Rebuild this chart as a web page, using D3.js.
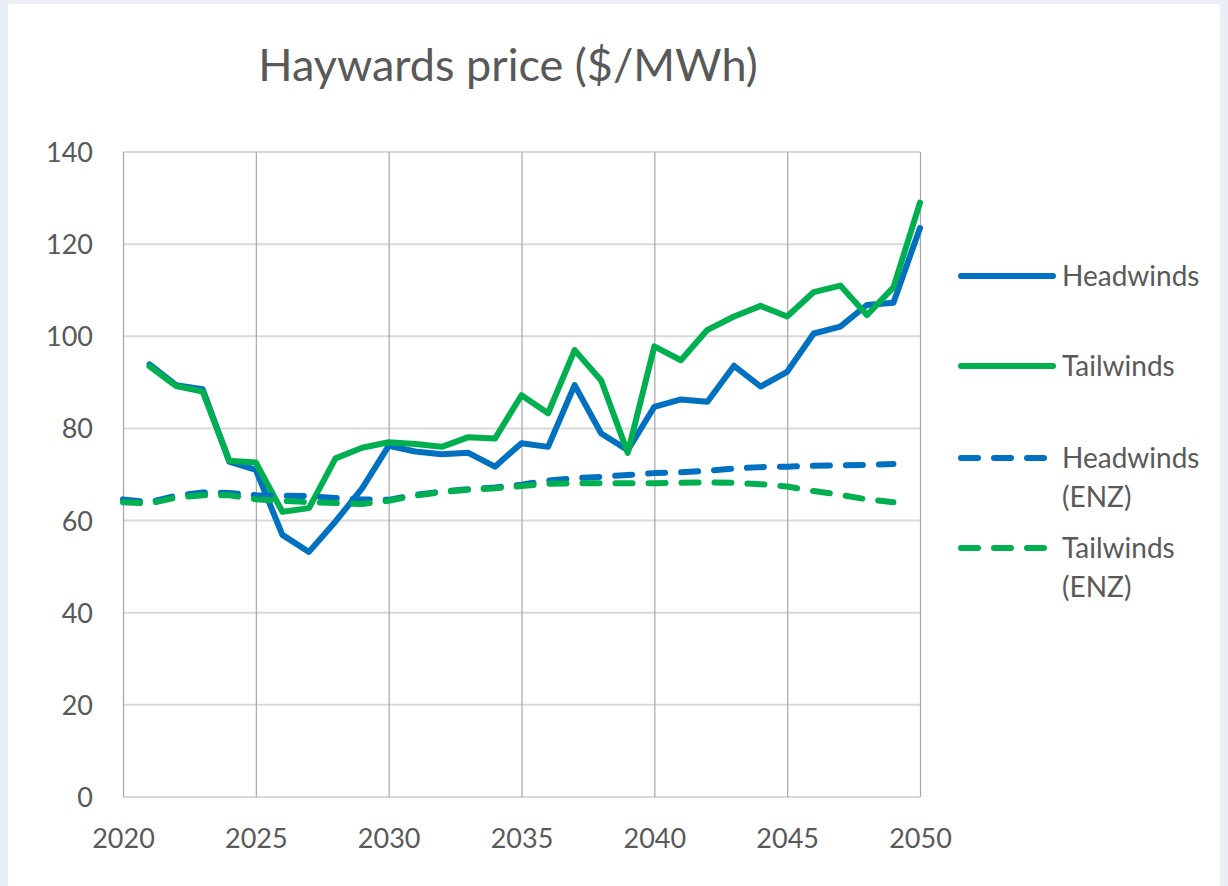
<!DOCTYPE html>
<html><head><meta charset="utf-8">
<script src="https://cdn.jsdelivr.net/npm/d3@7"></script>
<style>
html,body{margin:0;padding:0;background:#e9eef7;}
svg{display:block;}
</style></head>
<body>
<svg id="chart" width="1228" height="886"></svg>
<script>
const title = "Haywards price ($/MWh)";
const yTicks = [0, 20, 40, 60, 80, 100, 120, 140];
const xTicks = [2020, 2025, 2030, 2035, 2040, 2045, 2050];
const yearsMain = d3.range(2021, 2051);
const yearsEnz = d3.range(2020, 2050);
const headwinds = [93.9, 89.4, 88.5, 72.8, 71.0, 56.9, 53.2, 59.8, 67.0, 76.2,
  75.0, 74.4, 74.7, 71.7, 76.8, 76.0, 89.4, 78.9, 75.3, 84.7,
  86.3, 85.8, 93.6, 89.1, 92.3, 100.6, 102.1, 106.8, 107.3, 123.5];
const tailwinds = [93.5, 89.2, 88.0, 73.0, 72.6, 61.9, 62.7, 73.5, 75.8, 77.0,
  76.6, 76.0, 78.1, 77.8, 87.2, 83.3, 97.0, 90.4, 74.7, 97.8,
  94.8, 101.4, 104.3, 106.6, 104.3, 109.6, 111.0, 104.6, 110.6, 129.0];
const headwindsEnz = [64.6, 64.0, 65.4, 66.1, 66.0, 65.5, 65.4, 65.3, 64.9, 64.6,
  64.5, 65.6, 66.3, 66.8, 67.2, 67.8, 68.7, 69.2, 69.5, 69.9,
  70.3, 70.5, 70.8, 71.3, 71.6, 71.7, 71.9, 72.0, 72.1, 72.3];
const tailwindsEnz = [64.0, 63.7, 65.0, 65.5, 65.5, 64.6, 64.3, 64.0, 63.8, 63.6,
  64.3, 65.4, 66.2, 66.7, 67.0, 67.5, 68.0, 68.1, 68.1, 68.1,
  68.1, 68.2, 68.3, 68.2, 67.9, 67.4, 66.4, 65.6, 64.6, 64.0];
const seriesNames = ["Headwinds", "Tailwinds", "Headwinds\n(ENZ)", "Tailwinds\n(ENZ)"];
const seriesColors = ["#0070C0", "#00B050", "#0070C0", "#00B050"];
const seriesDashed = [false, false, true, true];

const series = [
  {name: seriesNames[0], years: yearsMain, values: headwinds, color: seriesColors[0], dashed: seriesDashed[0]},
  {name: seriesNames[1], years: yearsMain, values: tailwinds, color: seriesColors[1], dashed: seriesDashed[1]},
  {name: seriesNames[2], years: yearsEnz, values: headwindsEnz, color: seriesColors[2], dashed: seriesDashed[2]},
  {name: seriesNames[3], years: yearsEnz, values: tailwindsEnz, color: seriesColors[3], dashed: seriesDashed[3]}
];

const svg = d3.select("#chart");
const font = "Lato, 'Open Sans', sans-serif";
const textColor = "#595959";

svg.append("rect").attr("x", 8).attr("y", 4).attr("width", 1212).attr("height", 882).attr("fill", "#ffffff");

const x = d3.scaleLinear().domain([2020, 2050]).range([123, 920]);
const y = d3.scaleLinear().domain([0, 140]).range([797, 152]);

// horizontal gridlines
svg.append("g").selectAll("line").data(yTicks).join("line")
  .attr("x1", x(2020)).attr("x2", x(2050))
  .attr("y1", d => y(d)).attr("y2", d => y(d))
  .attr("stroke", "#d9d9d9").attr("stroke-width", 2);

// vertical gridlines
svg.append("g").selectAll("line").data(xTicks).join("line")
  .attr("x1", d => x(d) + 0.5).attr("x2", d => x(d) + 0.5)
  .attr("y1", y(140)).attr("y2", y(0))
  .attr("stroke", "#a6a6a6").attr("stroke-width", 1.2);

// y axis labels
const yAxis = d3.axisLeft(y).tickValues(yTicks).tickSize(0).tickPadding(0);
const gy = svg.append("g").attr("transform", "translate(93,0)").call(yAxis);
gy.select(".domain").remove();
gy.selectAll("text").attr("font-family", font).attr("font-size", 27).attr("fill", textColor).attr("dy", "0.35em");

// x axis labels
const xAxis = d3.axisBottom(x).tickValues(xTicks).tickFormat(d3.format("d")).tickSize(0).tickPadding(0);
const gx = svg.append("g").attr("transform", "translate(0,839)").call(xAxis);
gx.select(".domain").remove();
gx.selectAll("text").attr("font-family", font).attr("font-size", 27).attr("fill", textColor).attr("dy", "0.35em");

// lines
const line = d3.line().x(d => x(d[0])).y(d => y(d[1]));
const lineG = svg.append("g").attr("fill", "none");
series.forEach(s => {
  lineG.append("path")
    .datum(s.years.map((yr, i) => [yr, s.values[i]]))
    .attr("d", line)
    .attr("stroke", s.color)
    .attr("stroke-width", 6)
    .attr("stroke-linejoin", "round")
    .attr("stroke-linecap", "round")
    .attr("stroke-dasharray", s.dashed ? "17,16" : null);
});

// title
svg.append("text").attr("x", 508).attr("y", 81).attr("text-anchor", "middle")
  .attr("font-family", font).attr("font-size", 45).attr("fill", textColor).text(title);

// legend
const legendY = [276, 366, 458, 548];
const leg = svg.append("g");
series.forEach((s, i) => {
  leg.append("line").attr("x1", 961).attr("x2", 1053)
    .attr("y1", legendY[i]).attr("y2", legendY[i])
    .attr("stroke", s.color).attr("stroke-width", 6)
    .attr("stroke-linecap", "round")
    .attr("stroke-dasharray", s.dashed ? "17,16" : null);
  s.name.split("\n").forEach((part, j) => {
    leg.append("text").attr("x", 1062).attr("y", legendY[i] + j * 39)
      .attr("dy", "0.35em")
      .attr("font-family", font).attr("font-size", 28).attr("fill", textColor)
      .text(part);
  });
});
</script>
</body></html>
